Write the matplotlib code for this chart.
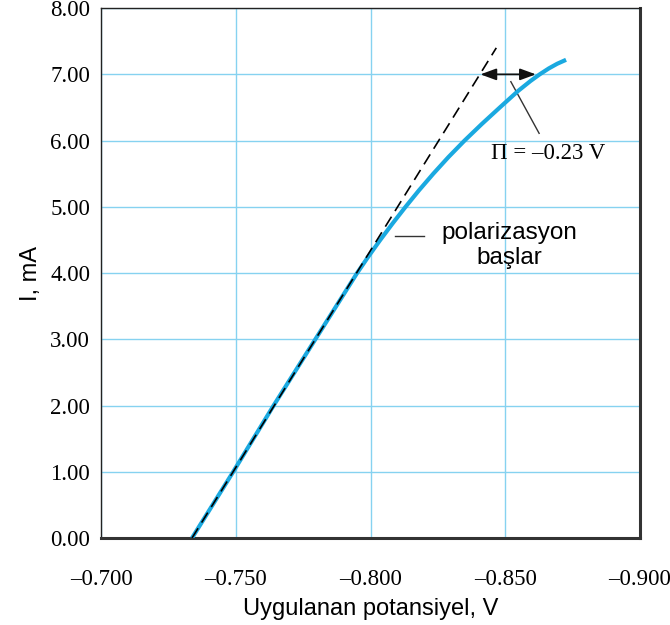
import matplotlib
matplotlib.use("Agg")
import matplotlib.pyplot as plt

pot = [-0.7337, -0.7490, -0.7640, -0.7795, -0.7950, -0.7992, -0.8036, -0.8082,
       -0.8130, -0.8180, -0.8233, -0.8289, -0.8349, -0.8413, -0.8480, -0.8548,
       -0.8594, -0.8628, -0.8662, -0.8693, -0.8726]
cur = [0.0, 1.0, 2.0, 3.0, 4.0, 4.25, 4.5, 4.75,
       5.0, 5.25, 5.5, 5.75, 6.0, 6.25, 6.5, 6.75,
       6.9, 7.0, 7.09, 7.16, 7.22]

# ideal (no polarization) line
ideal_pot = [-0.7337, -0.8467]
ideal_cur = [0.0, 7.40]

xticks = [-0.700, -0.750, -0.800, -0.850, -0.900]
xticklabels = ["\u20130.700", "\u20130.750", "\u20130.800", "\u20130.850", "\u20130.900"]
yticks = [0, 1, 2, 3, 4, 5, 6, 7, 8]

fig = plt.figure(figsize=(6.7, 6.25), dpi=100)
ax = fig.add_axes([0.151, 0.139, 0.804, 0.848])

ax.plot(ideal_pot, ideal_cur, color="black", lw=1.2, dashes=(7, 4), zorder=4)
ax.plot(pot, cur, color="#1aa9e0", lw=3.0, solid_capstyle="butt",
        solid_joinstyle="round", zorder=3)

ax.set_xlim(-0.700, -0.900)
ax.set_ylim(0, 8)
ax.set_xticks(xticks)
ax.set_xticklabels(xticklabels, family="Liberation Serif", fontsize=16.5)
ax.set_yticks(yticks)
ax.set_yticklabels(["%.2f" % v for v in yticks], family="Liberation Serif", fontsize=16.5)
ax.tick_params(axis="x", length=0, pad=22)
ax.tick_params(axis="y", length=0, pad=8)
ax.grid(True, color="#86d2f0", lw=1.0)
ax.set_axisbelow(True)

for s in ["left", "top"]:
    ax.spines[s].set_linewidth(1.0)
    ax.spines[s].set_color("#222222")
for s in ["right", "bottom"]:
    ax.spines[s].set_linewidth(2.2)
    ax.spines[s].set_color("#333333")

ax.set_xlabel("Uygulanan potansiyel, V", family="Liberation Sans", fontsize=17, labelpad=6)
ax.set_ylabel("I, mA", family="Liberation Sans", fontsize=17, labelpad=6)

# polarization overpotential arrow
ax.annotate("", xy=(-0.8408, 7.0), xytext=(-0.8614, 7.0),
            arrowprops=dict(arrowstyle="<|-|>,head_length=0.6,head_width=0.22",
                            color="#111111", lw=1.3,
                            mutation_scale=16, shrinkA=0, shrinkB=0))
ax.plot([-0.8521, -0.8626], [6.89, 6.11], color="#333333", lw=1.0)
ax.text(-0.8448, 5.80, "\u03a0 = \u20130.23 V", family="Liberation Serif",
        fontsize=16.5, ha="left", va="center")

ax.plot([-0.8090, -0.8200], [4.56, 4.56], color="#333333", lw=1.0)
ax.text(-0.8517, 4.42, "polarizasyon\nba\u015flar", family="Liberation Sans",
        fontsize=17.5, ha="center", va="center", linespacing=1.15)

fig.savefig("out.png", dpi=100)
